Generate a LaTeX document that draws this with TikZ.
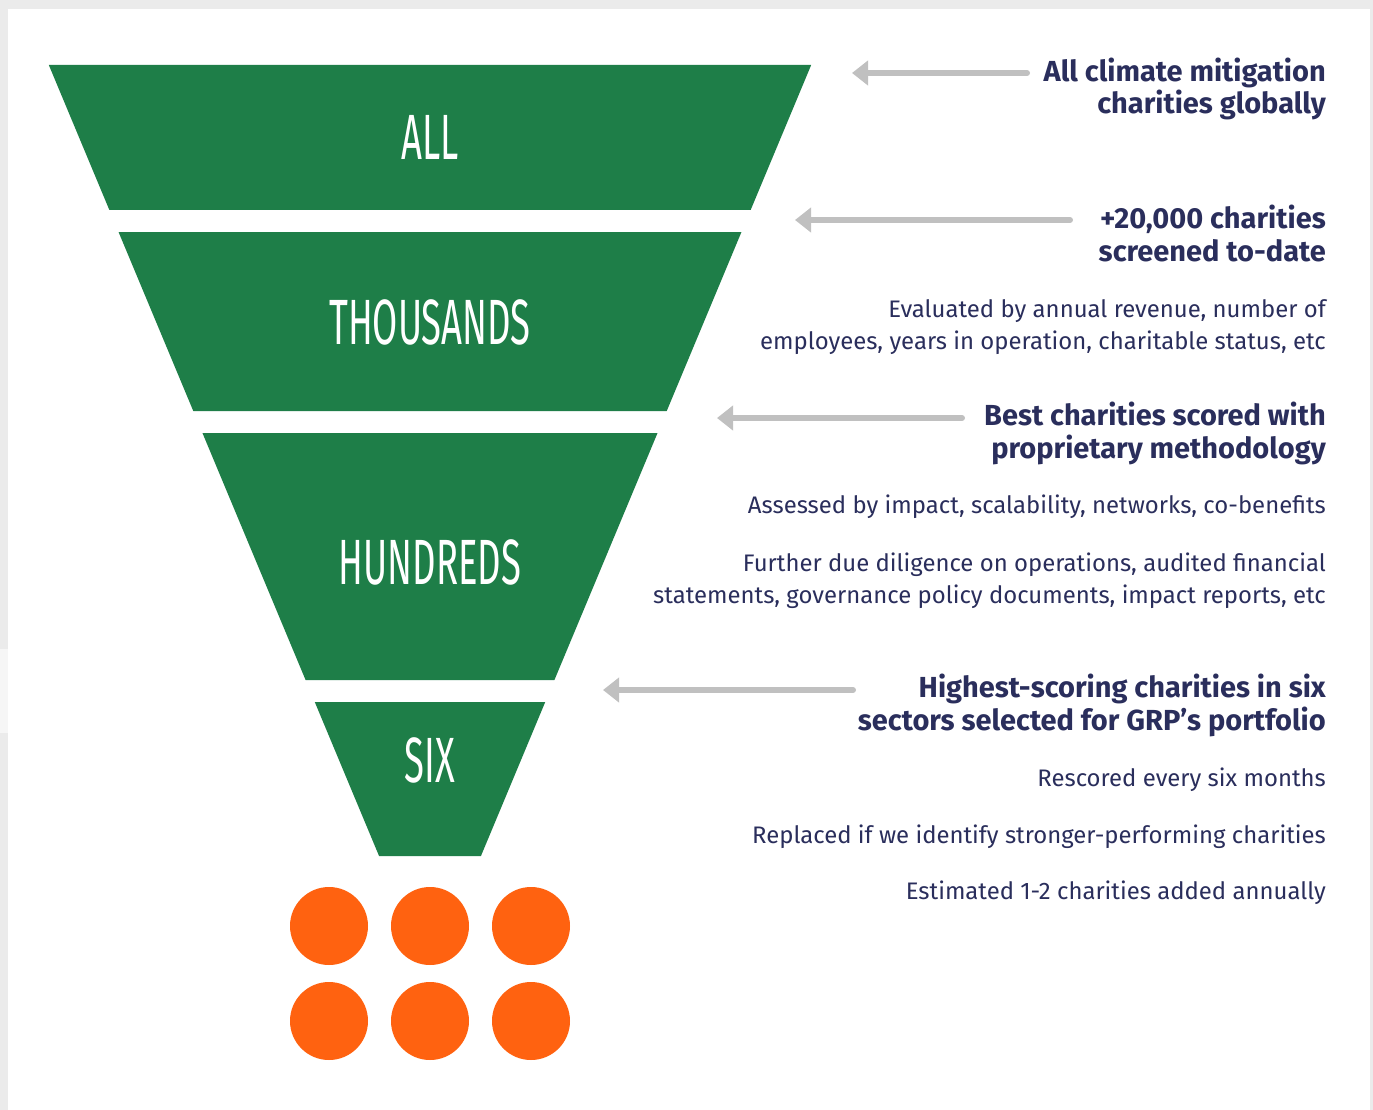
\documentclass[tikz,border=0pt]{standalone}
\usepackage{fontspec}
\usepackage{xcolor}
\usetikzlibrary{arrows.meta}
\setmainfont{Fira Sans}
\newfontfamily\condfont[FakeStretch=0.57]{Fira Sans}
\definecolor{funnelgreen}{HTML}{1E7E48}
\definecolor{dotorange}{HTML}{FF6210}
\definecolor{arrowgray}{HTML}{C0C0C0}
\definecolor{textnavy}{HTML}{2A2E5C}
\definecolor{pagegray}{HTML}{EBEBEB}
\begin{document}
\begin{tikzpicture}[x=1pt, y=-1pt,
      stagelabel/.style={text=white, inner sep=0pt, font=\condfont\fontsize{64}{64}\selectfont},
      headline/.style={text=textnavy, inner sep=0pt, anchor=base east, align=right,
        font=\fontsize{29}{32.5}\selectfont\bfseries},
      detail/.style={text=textnavy, inner sep=0pt, anchor=base east, align=right,
        font=\fontsize{23.9}{32}\selectfont},
      pointer/.style={arrowgray, line width=6pt, line cap=round, -{Triangle[length=16pt, width=24pt]}},
      charity/.style={circle, fill=dotorange, minimum size=78pt, inner sep=0pt}]
    % page
    \fill[pagegray] (0,0) rectangle (1373,1110);
    \fill[pagegray!45] (0,649) rectangle (8,733);
    \fill[white] (8,9) rectangle (1370,1110);
    % funnel: half width = 0.4175*(978-y)
    \foreach \ytop/\ybot/\ylab/\lab/\nm in {65/210/137/ALL/all, 232/411/322/THOUSANDS/thousands,
        433/680/562/HUNDREDS/hundreds, 702/856/760/SIX/six} {
      \fill[funnelgreen] ({430-0.4175*(978-\ytop)},\ytop) -- ({430+0.4175*(978-\ytop)},\ytop)
        -- ({430+0.4175*(978-\ybot)},\ybot) -- ({430-0.4175*(978-\ybot)},\ybot) -- cycle;
      \node (\nm) [stagelabel] at (430,\ylab) {\lab};
    }
    % the six charities
    \foreach \col/\cx in {1/329, 2/430, 3/531} {
      \node (dot\col) [charity] at (\cx,926) {};
      \node (dot\col b) [charity] at (\cx,1021) {};
    }
    % pointers
    \coordinate (allfrom) at (1027,73);   \coordinate (allto) at (852,73);
    \coordinate (thoufrom) at (1070,220); \coordinate (thouto) at (795,220);
    \coordinate (hundfrom) at (962,418);  \coordinate (hundto) at (717,418);
    \coordinate (sixfrom) at (853,690);   \coordinate (sixto) at (603,690);
    \draw[pointer] (allfrom) -- (allto);
    \draw[pointer] (thoufrom) -- (thouto);
    \draw[pointer] (hundfrom) -- (hundto);
    \draw[pointer] (sixfrom) -- (sixto);
    % texts (base = last line)
    \node (allhead) [headline] at (1326,114) {All climate mitigation\\charities globally};
    \node (thouhead) [headline] at (1326,261) {+20,000 charities\\screened to-date};
    \node (thoudet) [detail] at (1326,349) {Evaluated by annual revenue, number of\\employees, years in operation, charitable status, etc};
    \node (hundhead) [headline] at (1326,458) {Best charities scored with\\proprietary methodology};
    \node (hunddet) [detail] at (1326,513) {Assessed by impact, scalability, networks, co-benefits};
    \node (hunddd) [detail] at (1326,603) {Further due diligence on operations, audited financial\\statements, governance policy documents, impact reports, etc};
    \node (sixhead) [headline] at (1326,730) {Highest-scoring charities in six\\sectors selected for GRP’s portfolio};
    \node (sixre) [detail] at (1326,786) {Rescored every six months};
    \node (sixrep) [detail] at (1326,843) {Replaced if we identify stronger-performing charities};
    \node (sixadd) [detail] at (1326,899) {Estimated 1-2 charities added annually};
\end{tikzpicture}
\end{document}
